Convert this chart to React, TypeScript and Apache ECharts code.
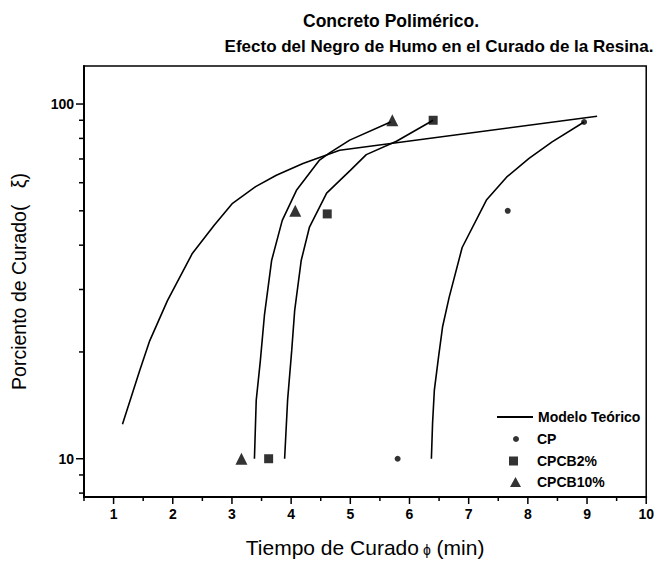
import React, { useEffect, useRef } from "react";
import * as echarts from "echarts";

const X_MIN = 0.5;
const X_MAX = 10;
const Y_MIN = 7.8;
const Y_MAX = 128;

const cpData = [[5.8, 10], [7.66, 50], [8.95, 89]];
const cpcb2Data = [[3.62, 10], [4.61, 49], [6.4, 90]];
const cpcb10Data = [[3.16, 10], [4.07, 50], [5.71, 90]];

const modelA = [[1.15, 12.5], [1.44, 17.7], [1.61, 21.5], [1.91, 27.9], [2.33, 37.9], [2.7, 45.5], [3.01, 52.5], [3.4, 58.5], [3.75, 63.0], [4.2, 68.0], [4.82, 74.1], [9.17, 92.4]];
const modelCPCB10 = [[3.38, 10], [3.41, 14.6], [3.48, 18.9], [3.55, 25.5], [3.67, 36.2], [3.85, 47], [4.09, 57.1], [4.48, 69.5], [4.65, 72.8], [4.99, 79.1], [5.68, 89]];
const modelCPCB2 = [[3.89, 10], [3.94, 14.6], [4.01, 20.2], [4.06, 26.2], [4.17, 36.2], [4.31, 45], [4.6, 56.1], [4.85, 61.5], [5.0, 65], [5.27, 72.0], [5.78, 78.5], [6.4, 90]];
const modelCP = [[6.37, 10], [6.39, 12.6], [6.42, 15.6], [6.49, 19.3], [6.56, 23.6], [6.67, 28.5], [6.89, 39.4], [7.3, 53.6], [7.64, 62.2], [8.02, 70.3], [8.41, 78.2], [8.95, 89]];

const yMajorTicks = [10, 100];
const yMinorTicks = [8, 9, 20, 30, 40, 50, 60, 70, 80, 90];
const xMajorTicks = [1, 2, 3, 4, 5, 6, 7, 8, 9, 10];
const xMinorTicks = [0.5, 1.5, 2.5, 3.5, 4.5, 5.5, 6.5, 7.5, 8.5, 9.5];

const FONT = "Liberation Sans";

export default function App() {
  const ref = useRef<HTMLDivElement>(null);
  useEffect(() => {
    if (!ref.current) return;
    const chart = echarts.init(ref.current, null, { renderer: "svg" });

    const tickData: number[][] = [
      ...yMajorTicks.map((v) => [X_MIN, v, 0, 8]),
      ...yMinorTicks.map((v) => [X_MIN, v, 0, 5]),
      ...xMajorTicks.map((v) => [v, Y_MIN, 1, 7]),
      ...xMinorTicks.map((v) => [v, Y_MIN, 1, 4]),
    ];

    const modelSeries = (data: number[][]) => ({
      type: "line",
      name: "Modelo Teórico",
      data,
      showSymbol: false,
      symbol: "none",
      smooth: false,
      lineStyle: { color: "#000", width: 1.6 },
      itemStyle: { color: "#000" },
      z: 3,
    });

    const legendText = { fontFamily: FONT, fontWeight: "bold", fontSize: 14, color: "#000" };

    chart.setOption({
      animation: false,
      backgroundColor: "#fff",
      title: [
        {
          text: "Concreto Polimérico.",
          left: 386,
          textAlign: "center",
          top: 7,
          textStyle: { fontFamily: FONT, fontWeight: "bold", fontSize: 17.5, color: "#000" },
        },
        {
          text: "Efecto del Negro de Humo en el Curado de la Resina.",
          left: 434,
          textAlign: "center",
          top: 33,
          textStyle: { fontFamily: FONT, fontWeight: "bold", fontSize: 17, color: "#000" },
        },
      ],
      grid: {
        left: 84,
        right: 10,
        top: 66,
        bottom: 70,
        show: true,
        borderColor: "#000",
        borderWidth: 1.5,
        backgroundColor: "transparent",
      },
      legend: [
        {
          data: [{ name: "Modelo Teórico", icon: "rect" }],
          left: 492,
          top: 405,
          itemWidth: 36,
          itemHeight: 2,
          selectedMode: false,
          textStyle: legendText,
        },
        {
          data: [{ name: "CP", icon: "circle" }],
          left: 508,
          top: 427,
          itemWidth: 6,
          itemHeight: 6,
          selectedMode: false,
          textStyle: { ...legendText, padding: [0, 0, 0, 13] },
        },
        {
          data: [{ name: "CPCB2%", icon: "rect" }],
          left: 504,
          top: 449,
          itemWidth: 9,
          itemHeight: 9,
          selectedMode: false,
          textStyle: { ...legendText, padding: [0, 0, 0, 14] },
        },
        {
          data: [{ name: "CPCB10%", icon: "triangle" }],
          left: 505,
          top: 470,
          itemWidth: 11,
          itemHeight: 10,
          selectedMode: false,
          textStyle: { ...legendText, padding: [0, 0, 0, 11] },
        },
      ],
      xAxis: {
        type: "value",
        min: X_MIN,
        max: X_MAX,
        interval: 0.5,
        name: "Tiempo de Curado{phi|ϕ} (min)",
        nameLocation: "middle",
        nameGap: 40,
        nameTextStyle: {
          fontFamily: FONT,
          fontSize: 21,
          color: "#000",
          rich: { phi: { fontSize: 14, fontFamily: FONT, color: "#000", padding: [4, 0, 0, 4] } },
        },
        axisLine: { show: true, lineStyle: { color: "#000", width: 2 } },
        axisTick: { show: false },
        splitLine: { show: false },
        axisLabel: {
          margin: 10,
          fontFamily: FONT,
          fontWeight: "bold",
          fontSize: 14,
          color: "#000",
          formatter: (v: number) => (Math.abs(v - Math.round(v)) < 1e-6 ? String(Math.round(v)) : ""),
        },
      },
      yAxis: {
        type: "log",
        logBase: 10,
        min: Y_MIN,
        max: Y_MAX,
        name: "Porciento de Curado(   ξ)",
        nameLocation: "middle",
        nameGap: 55,
        nameTextStyle: { fontFamily: FONT, fontSize: 19.5, color: "#000" },
        axisLine: { show: true, lineStyle: { color: "#000", width: 2 } },
        axisTick: { show: false },
        splitLine: { show: false },
        minorTick: { show: false },
        axisLabel: {
          margin: 10,
          fontFamily: FONT,
          fontWeight: "bold",
          fontSize: 14,
          color: "#000",
          showMinLabel: false,
          showMaxLabel: false,
          formatter: (v: number) =>
            Math.abs(v - 10) < 1e-6 || Math.abs(v - 100) < 1e-6 ? String(Math.round(v)) : "",
        },
      },
      series: [
        modelSeries(modelA),
        modelSeries(modelCPCB10),
        modelSeries(modelCPCB2),
        modelSeries(modelCP),
        {
          type: "scatter",
          name: "CP",
          data: cpData,
          symbol: "circle",
          symbolSize: 6,
          itemStyle: { color: "#000" },
          z: 4,
        },
        {
          type: "scatter",
          name: "CPCB2%",
          data: cpcb2Data,
          symbol: "rect",
          symbolSize: 9,
          itemStyle: { color: "#000" },
          z: 4,
        },
        {
          type: "scatter",
          name: "CPCB10%",
          data: cpcb10Data,
          symbol: "triangle",
          symbolSize: 12,
          itemStyle: { color: "#000" },
          z: 4,
        },
        {
          type: "custom",
          name: "ticks",
          data: tickData,
          encode: { x: 0, y: 1 },
          clip: false,
          silent: true,
          z: 5,
          renderItem: (params: any, api: any) => {
            const kind = api.value(2);
            const len = api.value(3);
            if (kind === 0) {
              const p = api.coord([X_MIN, api.value(1)]);
              return {
                type: "line",
                shape: { x1: p[0] - len, y1: p[1], x2: p[0], y2: p[1] },
                style: { stroke: "#000", lineWidth: 1.5 },
              };
            }
            const p = api.coord([api.value(0), Y_MIN]);
            return {
              type: "line",
              shape: { x1: p[0], y1: p[1], x2: p[0], y2: p[1] + len },
              style: { stroke: "#000", lineWidth: 1.5 },
            };
          },
        },
      ],
    });
    return () => chart.dispose();
  }, []);
  return (
    <div
      ref={ref}
      style={{ position: "absolute", left: 0, top: 0, width: 657, height: 567 }}
    />
  );
}
